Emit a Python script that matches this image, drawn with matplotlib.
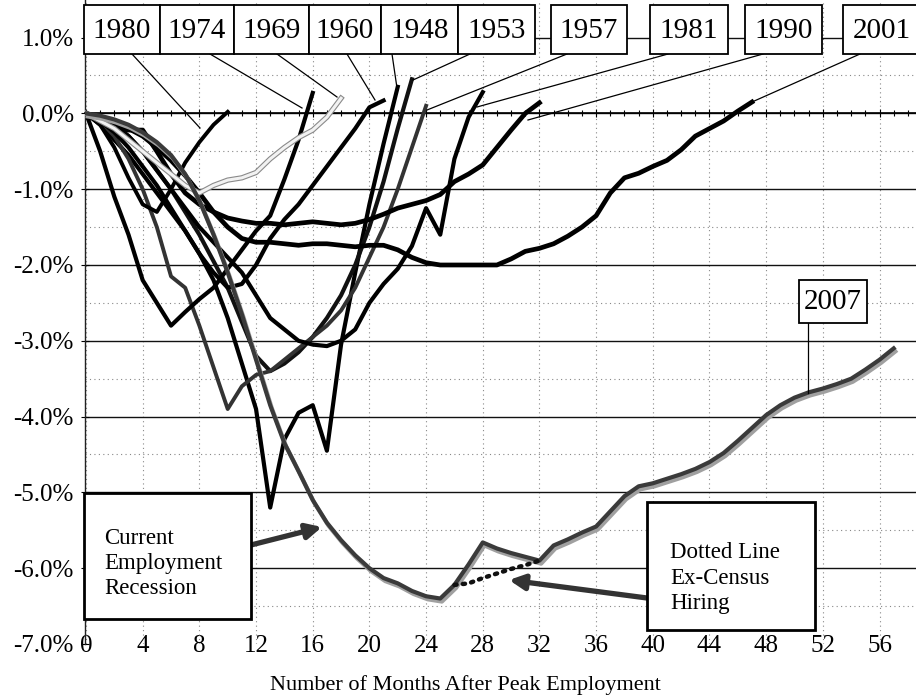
import numpy as np
import matplotlib
matplotlib.use("Agg")
import matplotlib.pyplot as plt
import matplotlib.transforms as mtransforms
import matplotlib.patheffects as pe
from matplotlib.patches import Rectangle
from matplotlib.lines import Line2D
from matplotlib.ticker import MultipleLocator, FixedLocator, FuncFormatter

plt.rcParams['font.family'] = ['Liberation Serif', 'DejaVu Serif']
plt.rcParams['axes.unicode_minus'] = False

# ---------------- data (percent change from peak employment, by month) -------------
s1948 = [0, -0.15, -0.35, -0.55, -0.8, -1.05, -1.3, -1.55, -1.85, -2.2, -2.7, -3.3, -3.9,
         -5.2, -4.3, -3.95, -3.85, -4.45, -3.05, -2.1, -1.2, -0.4, 0.35]
s1953 = [0, -0.05, -0.15, -0.3, -0.5, -0.75, -1.0, -1.3, -1.6, -1.95, -2.3, -2.75, -3.2,
         -3.4, -3.3, -3.15, -2.95, -2.7, -2.4, -2.0, -1.5, -0.9, -0.2, 0.45]
s1957 = [0, -0.1, -0.3, -0.6, -1.0, -1.5, -2.15, -2.3, -2.8, -3.35, -3.9, -3.6, -3.45,
         -3.4, -3.25, -3.1, -2.95, -2.8, -2.6, -2.3, -1.9, -1.5, -1.0, -0.45, 0.1]
s1960 = [0, -0.1, -0.25, -0.45, -0.7, -0.95, -1.25, -1.55, -1.85, -2.1, -2.3, -2.25, -2.0,
         -1.65, -1.4, -1.2, -0.95, -0.7, -0.45, -0.2, 0.08, 0.17]
s1969 = [0, -0.1, -0.2, -0.35, -0.5, -0.65, -0.8, -0.95, -1.05, -0.95, -0.88, -0.85, -0.78,
         -0.6, -0.45, -0.32, -0.22, -0.05, 0.2]
s1974 = [0, -0.5, -1.1, -1.6, -2.2, -2.5, -2.8, -2.62, -2.45, -2.3, -2.05, -1.8, -1.55,
         -1.35, -0.87, -0.35, 0.27]
s1980 = [0, -0.15, -0.45, -0.85, -1.2, -1.3, -1.0, -0.65, -0.38, -0.15, 0.02]
s1981 = [0, -0.05, -0.15, -0.3, -0.5, -0.75, -1.0, -1.25, -1.5, -1.7, -1.9, -2.1, -2.4,
         -2.7, -2.85, -3.0, -3.05, -3.07, -3.0, -2.85, -2.5, -2.25, -2.05, -1.75, -1.25,
         -1.6, -0.6, -0.05, 0.28]
s1990 = [0, -0.1, -0.2, -0.22, -0.22, -0.5, -0.8, -1.05, -1.2, -1.3, -1.38, -1.42, -1.45,
         -1.45, -1.47, -1.45, -1.43, -1.45, -1.47, -1.45, -1.4, -1.33, -1.25, -1.2, -1.15,
         -1.07, -0.9, -0.8, -0.68, -0.45, -0.22, 0.0, 0.14]
s2001 = [0, -0.05, -0.12, -0.2, -0.3, -0.45, -0.62, -0.82, -1.05, -1.3, -1.5, -1.65, -1.7,
         -1.7, -1.72, -1.74, -1.72, -1.72, -1.74, -1.76, -1.74, -1.74, -1.8, -1.9, -1.97,
         -2.0, -2.0, -2.0, -2.0, -2.0, -1.92, -1.82, -1.78, -1.72, -1.62, -1.5, -1.35,
         -1.05, -0.85, -0.79, -0.7, -0.62, -0.48, -0.3, -0.2, -0.1, 0.03, 0.15]
s2007 = [0, -0.03, -0.08, -0.15, -0.25, -0.38, -0.55, -0.8, -1.15, -1.6, -2.1, -2.65, -3.25,
         -3.85, -4.35, -4.72, -5.1, -5.4, -5.63, -5.83, -6.0, -6.13, -6.2, -6.3, -6.37,
         -6.4, -6.22, -5.95, -5.66, -5.74, -5.8, -5.85, -5.9, -5.7, -5.62, -5.53, -5.45,
         -5.25, -5.05, -4.92, -4.88, -4.82, -4.76, -4.69, -4.6, -4.48, -4.32, -4.15, -3.98,
         -3.85, -3.75, -3.68, -3.63, -3.57, -3.5, -3.38, -3.25, -3.1]
census_months = [26, 27, 28, 29, 30, 31, 32]
s2007_ex_census = [-6.22, -6.2, -6.13, -6.07, -6.01, -5.96, -5.9]

x_tick_labels = [0, 4, 8, 12, 16, 20, 24, 28, 32, 36, 40, 44, 48, 52, 56]
y_ticks = [-7, -6, -5, -4, -3, -2, -1, 0, 1]

# ---------------- layout ----------------
W, H = 916, 696
fig = plt.figure(figsize=(W / 100, H / 100), dpi=100)
X0, PXM = 86.0, 14.17        # pixel of month 0, pixels per month
Y0, PXP = 113.3, 75.74       # pixel of 0 %, pixels per percent
AX_L, AX_B = 85, 644
ax = fig.add_axes([AX_L / W, (H - AX_B) / H, (W - AX_L) / W, AX_B / H])
ax.set_xlim((AX_L - X0) / PXM, (W - X0) / PXM)
ax.set_ylim(-7, Y0 / PXP)

# pixel (top-left origin) transform for annotations
pix = mtransforms.Affine2D().scale(1 / W, -1 / H).translate(0, 1) + fig.transFigure

ax.set_axisbelow(True)
ax.yaxis.set_major_locator(FixedLocator(y_ticks))
ax.yaxis.set_minor_locator(MultipleLocator(0.5))
ax.yaxis.set_major_formatter(FuncFormatter(lambda v, _: f"{v:.1f}%"))
ax.xaxis.set_major_locator(MultipleLocator(4))
ax.xaxis.set_minor_locator(MultipleLocator(1))
ax.grid(axis='y', which='major', color='#111111', lw=1.0)
ax.grid(axis='y', which='minor', color='#888888', lw=0.8, ls=(0, (1, 3)))
ax.grid(axis='x', which='major', color='#888888', lw=0.8, ls=(0, (1, 3)))

for s in ['top', 'right']:
    ax.spines[s].set_visible(False)
ax.spines['left'].set_color('#222222')
ax.spines['left'].set_linewidth(1.0)
ax.spines['bottom'].set_position(('data', 0))
ax.spines['bottom'].set_linewidth(1.2)
ax.tick_params(axis='x', which='both', direction='inout', labelbottom=False, width=0.8)
ax.tick_params(axis='x', which='major', length=6)
ax.tick_params(axis='x', which='minor', length=5)
ax.tick_params(axis='y', which='major', direction='inout', length=6, pad=5, labelsize=18)
ax.tick_params(axis='y', which='minor', length=0)

sec = ax.secondary_xaxis(0.014)
sec.set_xticks(x_tick_labels)
sec.set_xticklabels([str(v) for v in x_tick_labels])
sec.tick_params(length=0, pad=0, labelsize=18)
sec.spines['bottom'].set_visible(False)

fig.canvas.draw()
ax.get_ygridlines()[0].set_visible(False)

# ---------------- lines ----------------
series = [
    (s1948, '#000000', 3.0), (s1953, '#111111', 3.0), (s1957, '#333333', 2.8),
    (s1960, '#000000', 3.0), (s1974, '#000000', 3.0), (s1980, '#000000', 2.8),
    (s1981, '#000000', 3.0), (s1990, '#000000', 3.4), (s2001, '#000000', 3.4),
]
for vals, col, lw in series:
    ax.plot(np.arange(len(vals)), vals, color=col, lw=lw, zorder=3)

ax.plot(np.arange(len(s1969)), s1969, color='#f2f2f2', lw=2.2, zorder=3,
        path_effects=[pe.Stroke(linewidth=3.8, foreground='#8a8a8a'), pe.Normal()])

ax.plot(np.arange(len(s2007)), s2007, color='#3a3a3a', lw=3.0, zorder=3,
        path_effects=[pe.SimpleLineShadow(offset=(1.2, -2.2), shadow_color='#a0a0a0', alpha=1.0, rho=1.0),
                      pe.Normal()])
ax.plot(census_months, s2007_ex_census, color='#111111', lw=3.2, zorder=3,
        ls=(0, (0.5, 1.4)), dash_capstyle='round')

# ---------------- labelled boxes along top ----------------
box_labels = ['1980', '1974', '1969', '1960', '1948', '1953', '1957', '1981', '1990', '2001']
box_x0 = [84, 160, 234, 309, 381, 458, 551, 650, 745, 843]
box_x1 = [160, 234, 309, 381, 458, 535, 627, 728, 822, 920]
leader_start_x = [132, 210, 277, 347, 392, 470, 567, 668, 763, 860]
leader_end = [(200, 128), (302, 108), (337, 97), (375, 100), (397, 88), (413, 80),
              (427, 110), (477, 107), (528, 120), (752, 102)]
BY0, BY1 = 5, 54

for lab, x0, x1, lx, (ex, ey) in zip(box_labels, box_x0, box_x1, leader_start_x, leader_end):
    fig.add_artist(Line2D([lx, ex], [BY1, ey], transform=pix, color='black', lw=0.9, zorder=6))
    fig.add_artist(Rectangle((x0, BY0), x1 - x0, BY1 - BY0, transform=pix, facecolor='white',
                             edgecolor='black', lw=1.3, zorder=7))
    fig.text((x0 + x1) / 2, (BY0 + BY1) / 2 + 1, lab, transform=pix, ha='center', va='center',
             fontsize=21, zorder=8)

# 2007 box
fig.add_artist(Line2D([808, 808], [323, 393], transform=pix, color='black', lw=0.9, zorder=6))
fig.add_artist(Rectangle((799, 280), 68, 43, transform=pix, facecolor='white',
                         edgecolor='black', lw=1.3, zorder=7))
fig.text(833, 302, '2007', transform=pix, ha='center', va='center', fontsize=21, zorder=8)

# Current Employment Recession box + arrow
fig.add_artist(Rectangle((84, 493), 167, 126, transform=pix, facecolor='white',
                         edgecolor='black', lw=2.0, zorder=7))
fig.text(104, 563, 'Current\nEmployment\nRecession', transform=pix, ha='left', va='center',
         fontsize=16.5, linespacing=1.25, zorder=8)
ax.annotate('', xy=(322, 527), xycoords=pix, xytext=(251, 545), textcoords=pix,
            arrowprops=dict(arrowstyle='-|>,head_length=0.9,head_width=0.45', lw=3.8,
                            color='#333333', shrinkA=0, shrinkB=0), zorder=6)

# Dotted line box + arrow
fig.add_artist(Rectangle((647, 502), 168, 128, transform=pix, facecolor='white',
                         edgecolor='black', lw=2.0, zorder=7))
fig.text(670, 578, 'Dotted Line\nEx-Census\nHiring', transform=pix, ha='left', va='center',
         fontsize=16.5, linespacing=1.25, zorder=8)
ax.annotate('', xy=(509, 580), xycoords=pix, xytext=(647, 598), textcoords=pix,
            arrowprops=dict(arrowstyle='-|>,head_length=0.9,head_width=0.45', lw=3.8,
                            color='#333333', shrinkA=0, shrinkB=0), zorder=6)

fig.text(270, 690, 'Number of Months After Peak Employment', transform=pix, ha='left',
         va='baseline', fontsize=16)

fig.savefig('out.png', dpi=100)
